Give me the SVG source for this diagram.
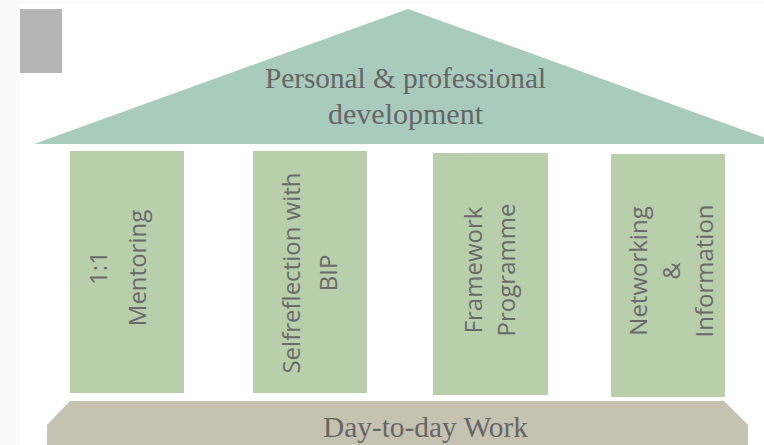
<svg xmlns="http://www.w3.org/2000/svg" width="764" height="445" viewBox="0 0 764 445">
<style>
.pillar{fill:#b9cfac}
.ptxt{font-family:"Open Sans","Noto Sans",sans-serif;font-size:24px;fill:#6a6a6a;text-anchor:middle}
.stxt{font-family:"Liberation Serif","Times New Roman",serif;font-size:29px;fill:#666666;text-anchor:middle}
</style>
<rect x="0" y="0" width="764" height="445" fill="#fafafa"/>
<rect x="20" y="4" width="744" height="441" fill="#ffffff"/>
<rect x="20" y="9" width="42" height="64" fill="#b5b5b5"/>
<g id="roof">
<polygon points="34,144 408,9 782,144" fill="#a9cbbd"/>
<text class="stxt" x="405.5" y="88" textLength="281" lengthAdjust="spacingAndGlyphs">Personal &amp; professional</text>
<text class="stxt" x="405.5" y="124" textLength="155" lengthAdjust="spacingAndGlyphs">development</text>
</g>
<g id="pillar1">
<rect class="pillar" x="70" y="151" width="114" height="242"/>
<text class="ptxt" transform="translate(107,268) rotate(-90)">1:1</text>
<text class="ptxt" transform="translate(146,268) rotate(-90)">Mentoring</text>
</g>
<g id="pillar2">
<rect class="pillar" x="253" y="151" width="114" height="242"/>
<text class="ptxt" transform="translate(300,273) rotate(-90)">Selfreflection with</text>
<text class="ptxt" transform="translate(337,273) rotate(-90)">BIP</text>
</g>
<g id="pillar3">
<rect class="pillar" x="433" y="153" width="115" height="242"/>
<text class="ptxt" transform="translate(482,270) rotate(-90)">Framework</text>
<text class="ptxt" transform="translate(515,270) rotate(-90)">Programme</text>
</g>
<g id="pillar4">
<rect class="pillar" x="611" y="154" width="114" height="243"/>
<text class="ptxt" transform="translate(647,271) rotate(-90)">Networking</text>
<text class="ptxt" transform="translate(680,271) rotate(-90)">&amp;</text>
<text class="ptxt" transform="translate(713,271) rotate(-90)">Information</text>
</g>
<g id="base">
<polygon points="70,401 724,401 748,425 748,445 47,445 47,425" fill="#c6c2b2"/>
<text class="stxt" x="425.5" y="437" textLength="205" lengthAdjust="spacingAndGlyphs">Day-to-day Work</text>
</g>
<g id="connectors"/>
</svg>
